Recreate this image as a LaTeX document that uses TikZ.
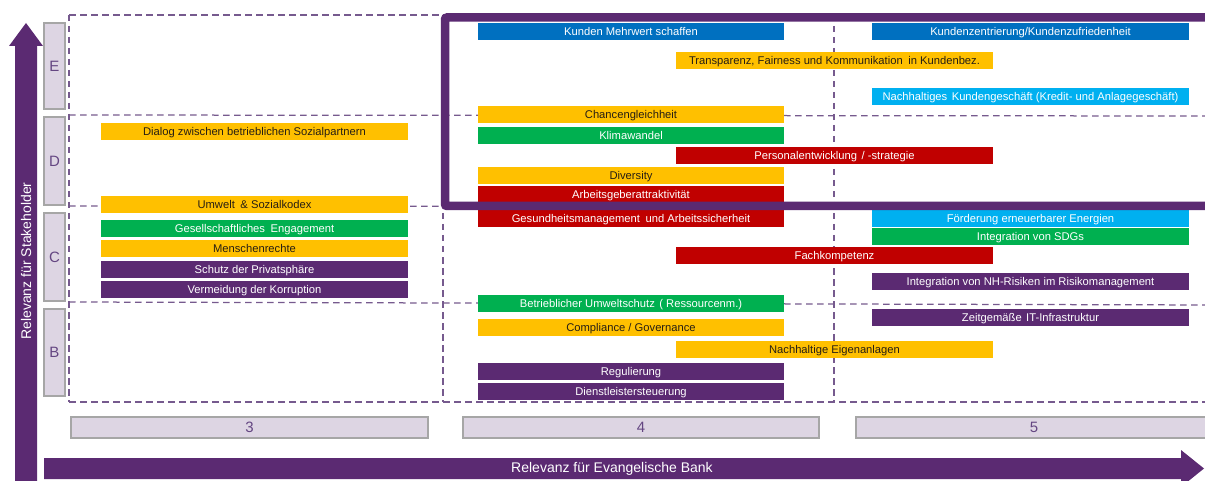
\documentclass[tikz,border=0pt]{standalone}
\usepackage{fontspec}
\setmainfont{Liberation Sans}
\definecolor{ebpurple}{RGB}{91,42,114}
\definecolor{ebyellow}{RGB}{255,192,0}
\definecolor{ebgreen}{RGB}{0,176,80}
\definecolor{ebred}{RGB}{192,0,0}
\definecolor{ebblue}{RGB}{0,112,192}
\definecolor{ebcyan}{RGB}{0,176,240}
\definecolor{ebdark}{RGB}{38,30,20}
\definecolor{gridline}{RGB}{118,90,142}
\definecolor{boxfill}{RGB}{221,213,227}
\definecolor{boxline}{RGB}{166,166,166}
\definecolor{labeltext}{RGB}{100,70,130}
\begin{document}
\begin{tikzpicture}[x=1pt,y=-1pt,
  bar/.style={minimum height=17pt, inner sep=0pt, text height=9pt, text depth=1pt,
    font=\fontsize{11.2}{12}\selectfont, text=white},
  ybar/.style={bar, fill=ebyellow, text=ebdark},
  gbar/.style={bar, fill=ebgreen},
  rbar/.style={bar, fill=ebred},
  bbar/.style={bar, fill=ebblue},
  cbar/.style={bar, fill=ebcyan},
  pbar/.style={bar, fill=ebpurple},
  cthree/.style={minimum width=307pt},
  cfour/.style={minimum width=306pt},
  cmid/.style={minimum width=317pt},
  cfive/.style={minimum width=317pt},
  rowbox/.style={draw=boxline, fill=boxfill, line width=1.2pt, minimum width=21pt, inner sep=0pt,
    text=labeltext, font=\fontsize{15}{16}\selectfont},
  colbox/.style={draw=boxline, fill=boxfill, line width=1.2pt, minimum height=21pt, inner sep=0pt,
    text=labeltext, font=\fontsize{15}{16}\selectfont},
  grid/.style={draw=gridline, line width=1.25pt, dash pattern=on 6.5pt off 4.5pt},
  frame/.style={draw=ebpurple, line width=8.5pt, rounded corners=2pt},
  axistext/.style={text=white, font=\fontsize{14}{15}\selectfont, inner sep=0pt}
]
\useasboundingbox (0,0) rectangle (1205,481);
\clip (0,0) rectangle (1205,481);

% axes
\fill[ebpurple] (15,481) -- (15,46) -- (9,46) -- (26,23) -- (43,46) -- (37,46) -- (37,481) -- cycle;
\fill[ebpurple] (44,458) -- (1181,458) -- (1181,450) -- (1204,468.5) -- (1181,487) -- (1181,479) -- (44,479) -- cycle;
\node[axistext, rotate=90] (yaxis) at (26,261) {Relevanz für Stakeholder};
\node[axistext] (xaxis) at (612,469) {Relevanz für Evangelische Bank};

% dashed matrix grid
\draw[grid] (69,15) -- (1215,15);
\draw[grid] (69,115) -- (1215,116);
\draw[grid] (69,206) -- (1215,207);
\draw[grid] (69,302) -- (1215,305);
\draw[grid] (69,402) -- (1215,402);
\draw[grid] (69,15) -- (69,402);
\draw[grid] (443,15) -- (443,402);
\draw[grid] (834,15) -- (834,402);

% row labels
\node[rowbox, minimum height=86pt] (rowE) at (54.5,66) {E};
\node[rowbox, minimum height=88pt] (rowD) at (54.5,161) {D};
\node[rowbox, minimum height=88pt] (rowC) at (54.5,257) {C};
\node[rowbox, minimum height=87pt] (rowB) at (54.5,352.5) {B};

% column labels
\node[colbox, minimum width=357pt] (col3) at (249.5,427.5) {3};
\node[colbox, minimum width=356pt] (col4) at (641,427.5) {4};
\node[colbox, minimum width=356pt] (col5) at (1034,427.5) {5};

% column 3
\node[ybar, cthree] (dialog) at (254.5,132) {Dialog zwischen betrieblichen Sozialpartnern};
\node[ybar, cthree] (kodex) at (254.5,205) {Umwelt\hspace{0.5em}\& Sozialkodex};
\node[gbar, cthree] (engagement) at (254.5,228.5) {Gesellschaftliches\hspace{0.5em}Engagement};
\node[ybar, cthree] (menschen) at (254.5,249) {Menschenrechte};
\node[pbar, cthree] (privat) at (254.5,269.5) {Schutz der Privatsphäre};
\node[pbar, cthree] (korruption) at (254.5,289.5) {Vermeidung der Korruption};

% column 4
\node[bbar, cfour] (mehrwert) at (631,32) {Kunden Mehrwert schaffen};
\node[ybar, cfour] (chancen) at (631,114.5) {Chancengleichheit};
\node[gbar, cfour] (klima) at (631,135.5) {Klimawandel};
\node[ybar, cfour] (diversity) at (631,175.5) {Diversity};
\node[rbar, cfour] (arbeitgeber) at (631,195) {Arbeitsgeberattraktivität};
\node[rbar, cfour] (gesundheit) at (631,219) {Gesundheitsmanagement\hspace{0.5em}und Arbeitssicherheit};
\node[gbar, cfour] (umweltschutz) at (631,303) {Betrieblicher Umweltschutz\hspace{0.4em}( Ressourcenm.)};
\node[ybar, cfour] (compliance) at (631,327) {Compliance / Governance};
\node[pbar, cfour] (regulierung) at (631,371) {Regulierung};
\node[pbar, cfour] (dienstleister) at (631,391) {Dienstleistersteuerung};

% between columns 4 and 5
\node[ybar, cmid] (transparenz) at (834.5,61) {Transparenz, Fairness und Kommunikation\hspace{0.5em}in Kundenbez.};
\node[rbar, cmid] (personal) at (834.5,155.5) {Personalentwicklung\hspace{0.4em}/ -strategie};
\node[rbar, cmid] (fach) at (834.5,256) {Fachkompetenz};
\node[ybar, cmid] (eigenanlagen) at (834.5,349.5) {Nachhaltige Eigenanlagen};

% column 5
\node[bbar, cfive] (zentrierung) at (1030.5,32) {Kundenzentrierung/Kundenzufriedenheit};
\node[cbar, cfive] (kundengeschaeft) at (1030.5,96.5) {Nachhaltiges\hspace{0.4em}Kundengeschäft (Kredit- und Anlagegeschäft)};
\node[cbar, cfive] (energien) at (1030.5,218.5) {Förderung erneuerbarer Energien};
\node[gbar, cfive] (sdgs) at (1030.5,237) {Integration von SDGs};
\node[pbar, cfive] (risiken) at (1030.5,281.5) {Integration von NH-Risiken im Risikomanagement};
\node[pbar, cfive] (it) at (1030.5,317.5) {Zeitgemäße\hspace{0.4em}IT-Infrastruktur};

% highlight frame
\draw[frame] (1215,17.5) -- (445,17.5) -- (445,206) -- (1215,206);
\end{tikzpicture}
\end{document}
